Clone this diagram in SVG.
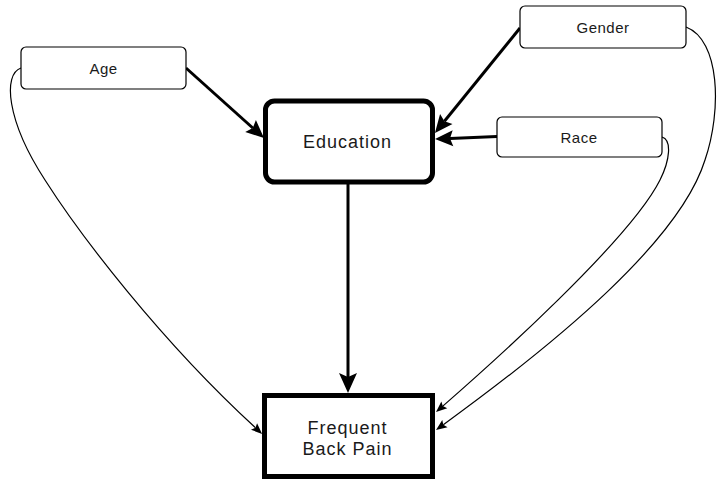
<svg xmlns="http://www.w3.org/2000/svg" width="717" height="480" viewBox="0 0 717 480">
<style>
.small rect{fill:#fff;stroke:#000;stroke-width:1.2}
.big rect{fill:#fff;stroke:#000;stroke-width:5}
text{font-family:"Liberation Sans",Arial,sans-serif;fill:#1a1a1a;text-anchor:middle}
.small text{font-size:15px;letter-spacing:0.5px}
.big text{font-size:18px;letter-spacing:1px}
.thick{fill:none;stroke:#000;stroke-width:3}
.thin{fill:none;stroke:#000;stroke-width:1.2}
</style>
<defs>
<marker id="ah" viewBox="-4 -9 20 18" markerWidth="20" markerHeight="18" refX="0" refY="0" orient="auto" markerUnits="userSpaceOnUse">
<path d="M-3,-8 L15,0 L-3,8 L0,0 Z" fill="#000"/>
</marker>
<marker id="ahv" viewBox="-5 -10 25 20" markerWidth="25" markerHeight="20" refX="0" refY="0" orient="auto" markerUnits="userSpaceOnUse">
<path d="M-4,-9 L16,0 L-4,9 L0,0 Z" fill="#000"/>
</marker>
<marker id="at" viewBox="-3 -6 13 12" markerWidth="13" markerHeight="12" refX="0" refY="0" orient="auto" markerUnits="userSpaceOnUse">
<path d="M-2,-4.5 L9,0 L-2,4.5 L0,0 Z" fill="#000"/>
</marker>
</defs>
<g id="connectors">
<path class="thick" d="M186,68 L252.8,128" marker-end="url(#ah)"/>
<path class="thick" d="M520,28 L444.4,121.3" marker-end="url(#ah)"/>
<path class="thick" d="M497,136.5 L450,138.4" marker-end="url(#ah)"/>
<path class="thick" d="M348,184 L348,377" marker-end="url(#ahv)"/>
<path class="thin" d="M21,68 C3,74 6,120 45,180 C80,235 160,340 255.5,427.8" marker-end="url(#at)"/>
<path class="thin" d="M686,27 C720,40 722,110 705,160 C680,240 560,340 443.3,424.7" marker-end="url(#at)"/>
<path class="thin" d="M662,137 C672,140 670,160 660,180 C630,240 490,365 442.8,406.1" marker-end="url(#at)"/>
</g>
<g id="age" class="small">
<rect x="21" y="47" width="165" height="42" rx="5"/>
<text x="103.5" y="74">Age</text>
</g>
<g id="gender" class="small">
<rect x="520" y="6" width="166" height="42" rx="5"/>
<text x="603" y="33">Gender</text>
</g>
<g id="race" class="small">
<rect x="497" y="117" width="165" height="40" rx="5"/>
<text x="579" y="143">Race</text>
</g>
<g id="education" class="big">
<rect x="265.5" y="101" width="167" height="81" rx="9"/>
<text x="347.5" y="148">Education</text>
</g>
<g id="frequent-back-pain" class="big">
<rect x="264.5" y="395.5" width="168" height="81"/>
<text x="347.5" y="434">Frequent</text>
<text x="347.5" y="455">Back Pain</text>
</g>
</svg>
